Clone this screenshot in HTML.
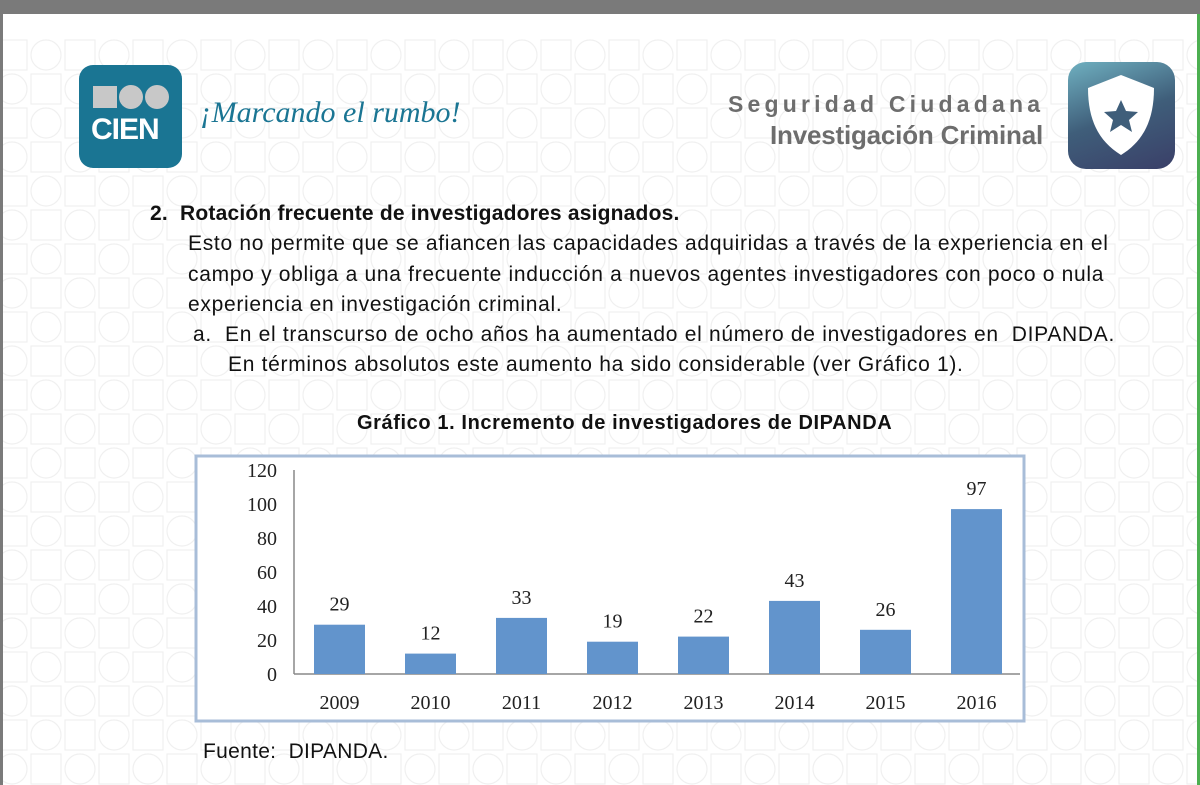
<!DOCTYPE html>
<html><head><meta charset="utf-8"><style>
body{margin:0;width:1200px;height:785px;overflow:hidden;background:#fff;font-family:"Liberation Sans",sans-serif;position:relative}
.t{position:absolute;white-space:nowrap;color:#111;font-size:21px;letter-spacing:0.7px}
</style></head><body>
<div style="position:absolute;left:0;top:0;width:1200px;height:14px;background:#7a7a7a"></div>
<div style="position:absolute;left:0;top:0;width:3px;height:785px;background:#7a7a7a"></div>
<div style="position:absolute;left:1197px;top:14px;width:3px;height:771px;background:#4caf50"></div>
<svg style="position:absolute;left:3px;top:38px" width="1194" height="747">
<defs><pattern id="p" width="68" height="68" patternUnits="userSpaceOnUse" x="-8">
<g fill="none" stroke="#f0f0f0" stroke-width="1.2">
<rect x="2" y="2" width="30" height="30"/><circle cx="51" cy="17" r="15"/>
<circle cx="17" cy="51" r="15"/><rect x="36" y="36" width="30" height="30"/></g></pattern></defs>
<rect width="1194" height="747" fill="url(#p)"/></svg>
<div style="position:absolute;left:79px;top:65px;width:103px;height:103px;background:#1a7593;border-radius:14px">
<div style="position:absolute;left:14px;top:21px;width:24px;height:22px;background:#c8c8c8"></div>
<div style="position:absolute;left:40px;top:20px;width:24px;height:24px;border-radius:50%;background:#c8c8c8"></div>
<div style="position:absolute;left:66px;top:20px;width:24px;height:24px;border-radius:50%;background:#c8c8c8"></div>
<div style="position:absolute;left:12px;top:48px;font:bold 30px 'Liberation Sans',sans-serif;color:#fff;letter-spacing:-1px">CIEN</div></div>
<div class="t" style="left:200px;top:96px;font:italic 30px 'Liberation Serif',serif;color:#1a7593;letter-spacing:0">¡Marcando el rumbo!</div>
<div class="t" style="left:728px;top:91px;font:bold 23px 'Liberation Sans',sans-serif;color:#6d6d6d;letter-spacing:4.2px">Seguridad Ciudadana</div>
<div class="t" style="left:770px;top:120px;font-size:26px;font-weight:bold;color:#6d6d6d;letter-spacing:-0.2px">Investigación Criminal</div>
<div style="position:absolute;left:1068px;top:62px;width:107px;height:107px;border-radius:18px;background:linear-gradient(160deg,#6fb0c0,#3f5e7a 50%,#3a3f68)">
<svg width="107" height="107"><path d="M53 13 L86 26 C86 60 74 80 53 93 C32 80 20 60 20 26 Z" fill="#fff"/><path d="M53 38 l5 11 12 1 -9 8 3 12 -11 -7 -11 7 3 -12 -9 -8 12 -1z" fill="#3f5e7a"/></svg></div>
<div class="t" style="left:150px;top:202px;font-weight:bold;letter-spacing:0.2px">2.&nbsp;&nbsp;Rotación frecuente de investigadores asignados.</div>
<div class="t" style="left:188px;top:232px">Esto no permite que se afiancen las capacidades adquiridas a través de la experiencia en el</div>
<div class="t" style="left:188px;top:263px">campo y obliga a una frecuente inducción a nuevos agentes investigadores con poco o nula</div>
<div class="t" style="left:188px;top:293px">experiencia en investigación criminal.</div>
<div class="t" style="left:193px;top:323px">a.&nbsp;&nbsp;En el transcurso de ocho años ha aumentado el número de investigadores en&nbsp; DIPANDA.</div>
<div class="t" style="left:228px;top:353px">En términos absolutos este aumento ha sido considerable (ver Gráfico 1).</div>
<div class="t" style="left:357px;top:412px;font-weight:bold;font-size:20px;letter-spacing:0.6px">Gráfico 1. Incremento de investigadores de DIPANDA</div>
<svg id="chart" style="position:absolute;left:0;top:0" width="1200" height="785">
<rect x="196" y="456" width="828" height="265" fill="#fff" stroke="#a8bdd8" stroke-width="3"/>
</svg>
<div class="t" style="left:203px;top:740px;letter-spacing:0.3px">Fuente:&nbsp; DIPANDA.</div>
<script>
const categories=["2009","2010","2011","2012","2013","2014","2015","2016"];
const values=[29,12,33,19,22,43,26,97];
const yTicks=[0,20,40,60,80,100,120];
const svg=document.getElementById('chart');const NS='http://www.w3.org/2000/svg';
const y0=674,yTop=470,yMax=120,x0=294,step=91,first=339.5,bw=51;
const y=v=>y0-(v/yMax)*(y0-yTop);const x=i=>first+i*step;
function mk(t,a,txt){const e=document.createElementNS(NS,t);for(const k in a)e.setAttribute(k,a[k]);if(txt!=null)e.textContent=txt;svg.appendChild(e);return e;}
const f="'Liberation Serif',serif";
yTicks.forEach(v=>{const e=mk('text',{x:277,y:y(v)+7,'text-anchor':'end','font-family':f,'font-size':20,fill:'#222'},v);

});
const ax=mk('line',{x1:x0,y1:y(yMax),x2:x0,y2:y0,stroke:'#888','stroke-width':1.5});


const xa=mk('line',{x1:x0,y1:y0,x2:1020,y2:y0,stroke:'#888','stroke-width':1.5});


categories.forEach((c,i)=>{
const b=mk('rect',{x:x(i)-bw/2,y:y(values[i]),width:bw,height:y0-y(values[i]),fill:'#6294cc'});


const l=mk('text',{x:x(i),y:y(values[i])-14,'text-anchor':'middle','font-family':f,'font-size':20,fill:'#222'},values[i]);


const t=mk('text',{x:x(i),y:709,'text-anchor':'middle','font-family':f,'font-size':20,fill:'#222'},c);


});
</script>
</body></html>
